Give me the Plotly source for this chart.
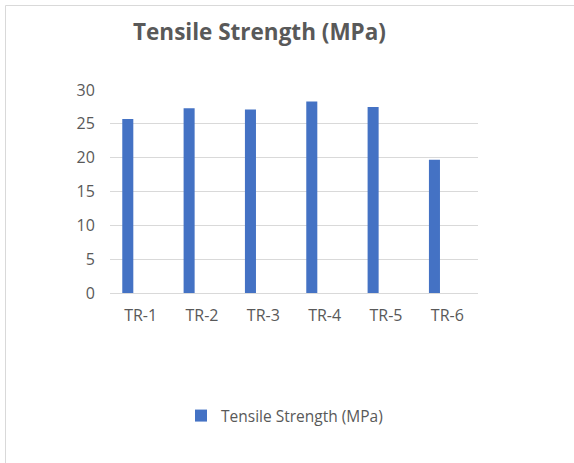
import plotly.graph_objects as go

categories = ["TR-1", "TR-2", "TR-3", "TR-4", "TR-5", "TR-6"]
tensile_strength = [25.7, 27.3, 27.1, 28.3, 27.5, 19.7]
y_ticks = [0, 5, 10, 15, 20, 25, 30]
series_name = "Tensile Strength (MPa)"
chart_title = "Tensile Strength (MPa)"

W, H = 574, 463
L, R, T, B = 110, 96, 90, 170
plot_w = W - L - R
plot_h = H - T - B

def px_x(p):
    return (p - L) / plot_w

def px_y(p):
    return (H - B - p) / plot_h

fig = go.Figure()
fig.add_trace(go.Bar(
    x=categories,
    y=tensile_strength,
    name=series_name,
    marker=dict(color="#4472C4", line=dict(width=0)),
    width=0.18,
    offset=-0.30,
))

grey = "#595959"
fig.update_layout(
    width=W, height=H,
    margin=dict(l=L, r=R, t=T, b=B, autoexpand=False),
    paper_bgcolor="white",
    plot_bgcolor="white",
    font=dict(family="Open Sans", size=16, color=grey),
    title=dict(
        text="<b>" + chart_title + "</b>",
        x=px_x(259.5), xref="paper", xanchor="center",
        y=1 - 32 / H, yref="container", yanchor="middle",
        font=dict(family="Open Sans", size=22.5, color=grey),
    ),
    showlegend=True,
    legend=dict(
        orientation="h",
        x=px_x(181), xanchor="left",
        y=px_y(416), yanchor="middle",
        font=dict(family="Open Sans", size=15.5, color=grey),
        bgcolor="rgba(0,0,0,0)",
    ),
    xaxis=dict(
        type="category",
        showgrid=False,
        showline=True, linecolor="#d9d9d9", linewidth=1,
        ticks="outside", ticklen=8, tickcolor="rgba(0,0,0,0)",
        tickfont=dict(size=16, color=grey),
        fixedrange=True,
    ),
    yaxis=dict(
        range=[0, 30],
        tickvals=y_ticks,
        showgrid=True, gridcolor="#d9d9d9", gridwidth=1,
        zeroline=False,
        showline=False,
        ticks="outside", ticklen=11, tickcolor="rgba(0,0,0,0)",
        tickfont=dict(size=16, color=grey),
        fixedrange=True,
    ),
    shapes=[
        dict(type="line", xref="paper", yref="paper",
             x0=px_x(5.5), x1=px_x(W + 5), y0=px_y(5.5), y1=px_y(5.5),
             line=dict(color="#d9d9d9", width=1)),
        dict(type="line", xref="paper", yref="paper",
             x0=px_x(5.5), x1=px_x(5.5), y0=px_y(5.5), y1=px_y(H + 5),
             line=dict(color="#d9d9d9", width=1)),
    ],
)

fig.write_html(
    "out.html",
    config={"displayModeBar": False},
    post_script="document.body.style.margin='0';document.body.style.overflow='hidden';",
)
